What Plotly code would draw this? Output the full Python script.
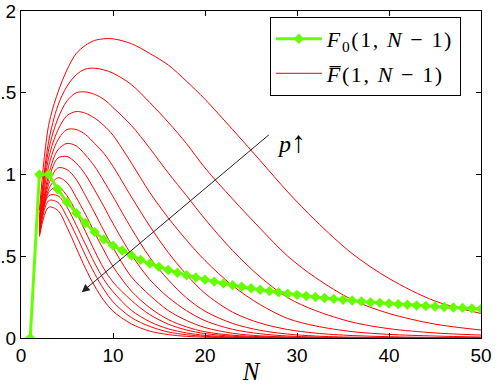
import plotly.graph_objects as go

# ---------------- data ----------------
N_green = list(range(1, 51))
F0 = [0.0, 1.0, 1.0, 0.91, 0.83, 0.764, 0.703, 0.648, 0.603, 0.565,
      0.535, 0.505, 0.478, 0.455, 0.435, 0.416, 0.399, 0.384, 0.370, 0.357,
      0.345, 0.334, 0.323, 0.313, 0.304, 0.295, 0.287, 0.279, 0.271, 0.264,
      0.257, 0.251, 0.245, 0.239, 0.234, 0.229, 0.224, 0.219, 0.215, 0.211,
      0.207, 0.203, 0.199, 0.196, 0.193, 0.190, 0.187, 0.184, 0.181, 0.178]

red_N = [2, 3, 4, 5, 6, 7, 8, 9, 10, 12, 14, 16, 18, 20, 23, 26, 29, 32, 36, 40, 45, 50]

Fbar_p1 = [0.78, 1.30, 1.50, 1.64, 1.74, 1.79, 1.82, 1.83, 1.83, 1.80, 1.74, 1.67, 1.57, 1.46, 1.275, 1.085, 0.893, 0.719, 0.516, 0.364, 0.226, 0.15]
Fbar_p2 = [0.74, 1.20, 1.42, 1.54, 1.61, 1.645, 1.65, 1.64, 1.62, 1.55, 1.44, 1.32, 1.188, 1.04, 0.85, 0.67, 0.50, 0.37, 0.234, 0.150, 0.085, 0.049]
Fbar_p3 = [0.72, 1.15, 1.34, 1.45, 1.50, 1.505, 1.49, 1.46, 1.41, 1.30, 1.16, 1.01, 0.87, 0.727, 0.535, 0.373, 0.246, 0.168, 0.097, 0.057, 0.031, 0.018]
Fbar_p4 = [0.71, 1.10, 1.27, 1.36, 1.385, 1.375, 1.345, 1.30, 1.24, 1.07, 0.89, 0.735, 0.598, 0.474, 0.32, 0.204, 0.119, 0.074, 0.039, 0.022, 0.012, 0.006]
Fbar_p5 = [0.70, 1.05, 1.21, 1.275, 1.275, 1.245, 1.19, 1.13, 1.05, 0.863, 0.684, 0.523, 0.387, 0.273, 0.158, 0.091, 0.052, 0.030, 0.015, 0.008, 0.003, 0.001]
Fbar_p6 = [0.69, 1.00, 1.15, 1.19, 1.175, 1.12, 1.05, 0.96, 0.865, 0.67, 0.493, 0.356, 0.245, 0.164, 0.089, 0.047, 0.024, 0.012, 0.005, 0.002, 0.001, 0.0]
Fbar_p7 = [0.68, 0.97, 1.10, 1.11, 1.07, 1.00, 0.905, 0.805, 0.70, 0.51, 0.357, 0.249, 0.167, 0.106, 0.053, 0.026, 0.012, 0.006, 0.002, 0.0, 0.0, 0.0]
Fbar_p8 = [0.67, 0.94, 1.04, 1.03, 0.97, 0.871, 0.766, 0.657, 0.553, 0.374, 0.261, 0.168, 0.107, 0.064, 0.029, 0.013, 0.006, 0.002, 0.0, 0.0, 0.0, 0.0]
Fbar_p9 = [0.66, 0.91, 0.98, 0.95, 0.86, 0.757, 0.645, 0.537, 0.437, 0.287, 0.185, 0.113, 0.068, 0.038, 0.017, 0.008, 0.003, 0.0, 0.0, 0.0, 0.0, 0.0]
Fbar_p10 = [0.65, 0.89, 0.925, 0.87, 0.77, 0.652, 0.533, 0.425, 0.342, 0.23, 0.143, 0.085, 0.049, 0.027, 0.011, 0.004, 0.001, 0.0, 0.0, 0.0, 0.0, 0.0]
Fbar_p11 = [0.64, 0.87, 0.87, 0.80, 0.69, 0.574, 0.459, 0.358, 0.283, 0.169, 0.10, 0.056, 0.031, 0.016, 0.006, 0.002, 0.0, 0.0, 0.0, 0.0, 0.0, 0.0]
Fbar_p12 = [0.63, 0.84, 0.83, 0.74, 0.627, 0.506, 0.394, 0.298, 0.221, 0.125, 0.071, 0.037, 0.020, 0.010, 0.003, 0.0, 0.0, 0.0, 0.0, 0.0, 0.0, 0.0]
Fbar_p13 = [0.62, 0.80, 0.78, 0.677, 0.552, 0.427, 0.318, 0.23, 0.164, 0.086, 0.042, 0.021, 0.010, 0.005, 0.001, 0.0, 0.0, 0.0, 0.0, 0.0, 0.0, 0.0]

Fbar_curves = [Fbar_p1, Fbar_p2, Fbar_p3, Fbar_p4, Fbar_p5, Fbar_p6, Fbar_p7,
               Fbar_p8, Fbar_p9, Fbar_p10, Fbar_p11, Fbar_p12, Fbar_p13]

x_ticks = [0, 10, 20, 30, 40, 50]
y_ticks = [0, 0.5, 1, 1.5, 2]
y_ticklabels = ["0", "0.5", "1", "1.5", "2"]

# arrow showing direction of increasing p (data coords)
arrow_tail = (27.1, 1.25)
arrow_head = (6.6, 0.28)
p_label_pos = (29.4, 1.20)

# ---------------- figure ----------------
RED = "#ff0000"
GREEN = "#66ff00"
SERIF = "Liberation Serif, DejaVu Serif, serif"
SANS = "Liberation Sans, Arial, sans-serif"
LS = "<span style='letter-spacing:1.6px'>{}</span>"

fig = go.Figure()

for i, ys in enumerate(Fbar_curves):
    fig.add_trace(go.Scatter(
        x=red_N, y=ys, mode="lines",
        line=dict(color=RED, width=1, shape="spline", smoothing=0.9),
        name=LS.format("<i>F\u0305</i>(1, <i>N</i>&nbsp;\u2212&nbsp;1)"),
        showlegend=(i == 0), legendrank=2, legendgroup="red",
        hoverinfo="skip",
    ))

fig.add_trace(go.Scatter(
    x=N_green, y=F0, mode="lines+markers",
    line=dict(color=GREEN, width=3),
    marker=dict(symbol="diamond", size=8, color=GREEN),
    name=LS.format("<i>F</i><sub>0</sub>(1, <i>N</i>&nbsp;\u2212&nbsp;1)"),
    legendrank=1, legendgroup="green",
))

fig.add_annotation(
    x=arrow_head[0], y=arrow_head[1], ax=arrow_tail[0], ay=arrow_tail[1],
    xref="x", yref="y", axref="x", ayref="y",
    showarrow=True, arrowhead=2, arrowsize=1.6, arrowwidth=1,
    arrowcolor="#222222", text="",
)
fig.add_annotation(
    x=p_label_pos[0], y=p_label_pos[1], xref="x", yref="y",
    text="<i>p</i><span style='font-size:30px'>\u2191</span>", showarrow=False,
    font=dict(family=SERIF, size=24, color="black"),
)

axis_common = dict(
    showline=True, linecolor="black", linewidth=1, mirror="ticks",
    ticks="inside", ticklen=5, tickwidth=1, tickcolor="black",
    showgrid=False, zeroline=False, automargin=False,
    tickfont=dict(family=SANS, size=19, color="black"),
)

fig.update_xaxes(
    range=[0, 50], tickvals=x_ticks,
    title=dict(text="<i>N</i>", font=dict(family=SERIF, size=25, color="black"), standoff=2),
    **axis_common,
)
fig.update_yaxes(
    range=[0, 2], tickvals=y_ticks, ticktext=y_ticklabels,
    **axis_common,
)

fig.update_layout(
    template="none",
    width=498, height=385,
    margin=dict(l=21, r=17, t=11, b=47),
    paper_bgcolor="white", plot_bgcolor="white",
    showlegend=True,
    legend=dict(
        x=0.541, y=0.982, xanchor="left", yanchor="top",
        bgcolor="white", bordercolor="black", borderwidth=1,
        font=dict(family=SERIF, size=22, color="black"),
        tracegroupgap=3, itemwidth=46,
    ),
)

fig.write_html("out.html", config={"displayModeBar": False},
               post_script="document.body.style.margin='0';document.body.style.padding='0';")
